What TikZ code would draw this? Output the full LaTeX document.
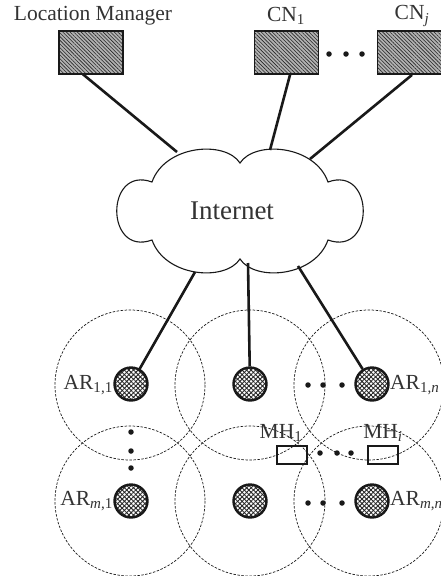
\documentclass[tikz,border=0pt]{standalone}
\usepackage{fontspec}
\setmainfont{Liberation Serif}
\usetikzlibrary{patterns,patterns.meta,calc}
\begin{document}
\begin{tikzpicture}[x=1pt,y=-1pt,
  lbl/.style={text=black!80,font=\fontsize{21.5}{24}\selectfont,inner sep=0pt},
  hostbox/.style={draw=black!90,line width=1.8pt,minimum width=64pt,minimum height=43pt,inner sep=0pt,
     preaction={fill=gray!60},pattern={Lines[angle=-45,distance=2.6pt,line width=0.6pt]},pattern color=black!85},
  router/.style={circle,draw=black!90,line width=2.4pt,minimum size=33pt,inner sep=0pt,
     preaction={fill=white},
     preaction={pattern={Lines[angle=45,distance=3.2pt,line width=0.9pt]},pattern color=black!85},
     pattern={Lines[angle=-45,distance=3.2pt,line width=0.9pt]},pattern color=black!85},
  mhbox/.style={draw=black!90,line width=1.6pt,minimum width=30pt,minimum height=18pt,inner sep=0pt},
  link/.style={line width=2.6pt,draw=black!90},
  cell/.style={draw=black!90,line width=0.7pt,dash pattern=on 2.5pt off 1.5pt},
  dotc/.style={circle,fill=black!90,inner sep=0pt,minimum size=5.5pt}]
\useasboundingbox (0,0) rectangle (441,576);
% coverage cells
\foreach \cx in {130,250,369}{
  \draw[cell] (\cx,385) circle (75);
  \draw[cell] (\cx,501) circle (75);
}
% top hosts
\node[lbl] (lmlbl) at (93,16) {Location Manager};
\node[lbl] (cn1lbl) at (286,16) {CN\textsubscript{1}};
\node[lbl] (cnjlbl) at (412,16) {CN\textsubscript{\textit{j}}};
\node[hostbox] (lm) at (91,52.5) {};
\node[hostbox] (cn1) at (286.5,52.5) {};
\node[hostbox] (cnj) at (409.5,52.5) {};
\node[dotc] (td1) at (329,54) {};
\node[dotc] (td2) at (346,54) {};
\node[dotc] (td3) at (362,54) {};
% cloud
\draw[line width=1.1pt,draw=black!90,fill=white]
  (152,182) .. controls (165,145) and (225,140) .. (240,163)
  .. controls (255,140) and (315,145) .. (328,182)
  .. controls (375,165) and (375,257) .. (328,240)
  .. controls (315,277) and (255,282) .. (240,259)
  .. controls (225,282) and (165,277) .. (152,240)
  .. controls (105,257) and (105,165) .. (152,182) -- cycle;
\node[text=black!80,font=\fontsize{27}{30}\selectfont,inner sep=0pt] (inet) at (232,211) {Internet};
\coordinate (ct1) at (177,152);
\coordinate (ct2) at (270,150);
\coordinate (ct3) at (310,159);
\coordinate (cb1) at (195,272);
\coordinate (cb2) at (248,263);
\coordinate (cb3) at (298,266);
% access routers
\node[router] (r11) at (131,384) {};
\node[router] (r12) at (250,384) {};
\node[router] (r1n) at (372,384) {};
\node[router] (rm1) at (131,501) {};
\node[router] (rm2) at (250,501) {};
\node[router] (rmn) at (372,501) {};
% links
\draw[link] ($(lm.south)+(-8,0)$) -- (ct1);
\draw[link] ($(cn1.south)+(3.5,0)$) -- (ct2);
\draw[link] ($(cnj.south)+(2.5,0)$) -- (ct3);
\draw[link] (cb1) -- (r11);
\draw[link] (cb2) -- (r12);
\draw[link] (cb3) -- (r1n);
% router labels
\node[lbl,anchor=east] (l11) at (113,385) {AR\textsubscript{1,1}};
\node[lbl,anchor=west] (l1n) at (390,385) {AR\textsubscript{1,\textit{n}}};
\node[lbl,anchor=east] (lm1) at (113,501) {AR\textsubscript{\textit{m},1}};
\node[lbl,anchor=west] (lmn) at (390,501) {AR\textsubscript{\textit{m},\textit{n}}};
% dots
\node[dotc] (a1) at (308,385) {};
\node[dotc] (a2) at (323,385) {};
\node[dotc] (a3) at (342,385) {};
\node[dotc] (b1) at (308,503) {};
\node[dotc] (b2) at (323,503) {};
\node[dotc] (b3) at (342,503) {};
\node[dotc] (v1) at (131,432) {};
\node[dotc] (v2) at (131,451) {};
\node[dotc] (v3) at (131,468) {};
% mobile hosts
\node[mhbox] (mh1) at (292,455) {};
\node[mhbox] (mhi) at (383,455) {};
\node[lbl] (mh1l) at (281,433) {MH\textsubscript{1}};
\node[lbl] (mhil) at (383,433) {MH\textsubscript{\textit{i}}};
\node[dotc] (m1) at (320,453) {};
\node[dotc] (m2) at (337,453) {};
\node[dotc] (m3) at (351,453) {};
\end{tikzpicture}
\end{document}
